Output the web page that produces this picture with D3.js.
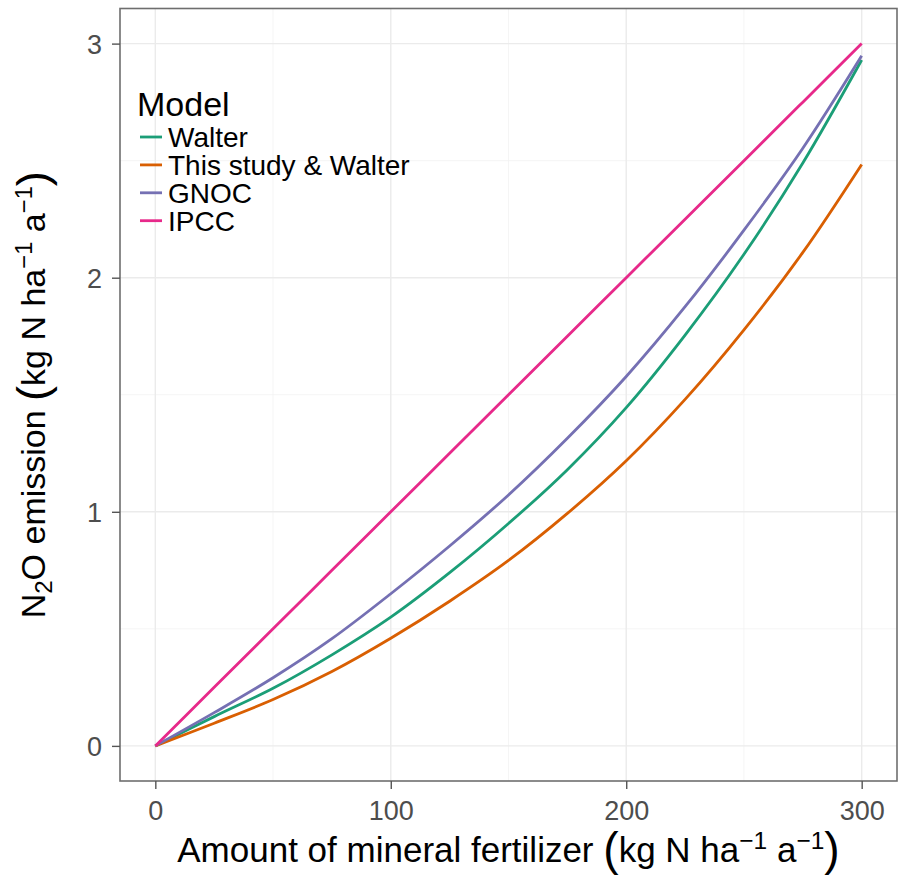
<!DOCTYPE html>
<html>
<head>
<meta charset="utf-8">
<script src="https://cdn.jsdelivr.net/npm/d3@7"></script>
<style>
  body { margin: 0; background: #fff; }
  svg text { font-family: "Liberation Sans", Arial, sans-serif; }
</style>
</head>
<body>
<svg id="chart" width="899" height="879"></svg>
<script>
// fertilizer amounts (kg N / ha / a)
var fertilizer = [0, 25, 50, 75, 100, 125, 150, 175, 200, 225, 250, 275, 300];

// N2O emission
var walter    = [0, 0.125, 0.246, 0.389, 0.55, 0.74, 0.95, 1.18, 1.445, 1.755, 2.10, 2.49, 2.93];
var thisStudy = [0, 0.097, 0.198, 0.318, 0.46, 0.618, 0.792, 0.993, 1.218, 1.48, 1.777, 2.108, 2.484];
var gnoc      = [0, 0.142, 0.291, 0.458, 0.65, 0.854, 1.072, 1.314, 1.578, 1.876, 2.203, 2.553, 2.948];
var ipcc      = [0, 0.25, 0.5, 0.75, 1.0, 1.25, 1.5, 1.75, 2.0, 2.25, 2.5, 2.75, 3.0];

var modelNames = ["Walter", "This study & Walter", "GNOC", "IPCC"];
var modelColors = ["#1b9e77", "#d95f02", "#7570b3", "#e7298a"];

var xTicks = [0, 100, 200, 300];
var xMinor = [50, 150, 250];
var yTicks = [0, 1, 2, 3];
var yMinor = [0.5, 1.5, 2.5];

var svg = d3.select("#chart"),
    margin = {top: 8.5, right: 2, bottom: 98, left: 120},
    width = +svg.attr("width") - margin.left - margin.right,
    height = +svg.attr("height") - margin.top - margin.bottom,
    g = svg.append("g").attr("transform", "translate(" + margin.left + "," + margin.top + ")");

var x = d3.scaleLinear().domain([-15, 315]).range([0, width]);
var y = d3.scaleLinear().domain([-0.15, 3.15]).range([height, 0]);

// grid
g.selectAll(".vminor").data(xMinor).enter().append("line")
  .attr("x1", x).attr("x2", x).attr("y1", 0).attr("y2", height)
  .attr("stroke", "#f2f2f2").attr("stroke-width", 0.8);
g.selectAll(".hminor").data(yMinor).enter().append("line")
  .attr("y1", y).attr("y2", y).attr("x1", 0).attr("x2", width)
  .attr("stroke", "#f2f2f2").attr("stroke-width", 0.8);
g.selectAll(".vmajor").data(xTicks).enter().append("line")
  .attr("x1", x).attr("x2", x).attr("y1", 0).attr("y2", height)
  .attr("stroke", "#ebebeb").attr("stroke-width", 1.4);
g.selectAll(".hmajor").data(yTicks).enter().append("line")
  .attr("y1", y).attr("y2", y).attr("x1", 0).attr("x2", width)
  .attr("stroke", "#ebebeb").attr("stroke-width", 1.4);

// lines
var line = d3.line()
  .x(function(d) { return x(d[0]); })
  .y(function(d) { return y(d[1]); })
  .curve(d3.curveCatmullRom);

var seriesValues = [walter, thisStudy, gnoc, ipcc];
seriesValues.forEach(function(vals, i) {
  g.append("path")
    .datum(fertilizer.map(function(f, j) { return [f, vals[j]]; }))
    .attr("fill", "none")
    .attr("stroke", modelColors[i])
    .attr("stroke-width", 2.8)
    .attr("d", line);
});

// panel border
g.append("rect")
  .attr("width", width).attr("height", height)
  .attr("fill", "none").attr("stroke", "#6e6e6e").attr("stroke-width", 1.6);

// axes
var xAxis = g.append("g").attr("transform", "translate(0," + height + ")")
  .call(d3.axisBottom(x).tickValues(xTicks).tickSize(8).tickPadding(5).tickFormat(d3.format("d")));
var yAxis = g.append("g")
  .call(d3.axisLeft(y).tickValues(yTicks).tickSize(8).tickPadding(10).tickFormat(d3.format("d")));

[xAxis, yAxis].forEach(function(a) {
  a.select(".domain").remove();
  a.selectAll("line").attr("stroke", "#555").attr("stroke-width", 1.4);
  a.selectAll("text").attr("fill", "#4d4d4d").style("font-size", "27px");
});
xAxis.selectAll("text").attr("dy", "0.95em");
yAxis.selectAll("text").attr("dy", "0.36em");

// titles: pieces with size and vertical shift (px, negative = up)
function unitPieces(s) {
  return [
    {t: "(", size: s * 1.32, shift: 3},
    {t: "kg N ha", size: s, shift: 0},
    {t: "\u22121", size: s * 0.7, shift: -13},
    {t: " a", size: s, shift: 0},
    {t: "\u22121", size: s * 0.7, shift: -13},
    {t: ")", size: s * 1.32, shift: 3}
  ];
}

function writePieces(sel, pieces) {
  var cur = 0;
  pieces.forEach(function(p) {
    sel.append("tspan")
      .style("font-size", p.size + "px")
      .attr("dy", p.shift - cur)
      .text(p.t);
    cur = p.shift;
  });
}

var xt = svg.append("text")
  .attr("x", margin.left + width / 2).attr("y", 862)
  .attr("text-anchor", "middle").attr("fill", "#000");
writePieces(xt, [{t: "Amount of mineral fertilizer ", size: 35, shift: 0}].concat(unitPieces(35)));

var yt = svg.append("text")
  .attr("transform", "translate(45," + (margin.top + height / 2) + ") rotate(-90)")
  .attr("text-anchor", "middle").attr("fill", "#000");
writePieces(yt, [
  {t: "N", size: 34, shift: 0},
  {t: "2", size: 24, shift: 7},
  {t: "O emission ", size: 34, shift: 0}
].concat(unitPieces(34)));

// legend
var legend = svg.append("g").attr("transform", "translate(137,0)");
legend.append("text").attr("x", 0).attr("y", 116)
  .style("font-size", "34px").attr("fill", "#000").text("Model");
modelNames.forEach(function(name, i) {
  var cy = 137 + i * 27.9;
  legend.append("line")
    .attr("x1", 3).attr("x2", 25).attr("y1", cy).attr("y2", cy)
    .attr("stroke", modelColors[i]).attr("stroke-width", 2.8);
  legend.append("text").attr("x", 31).attr("y", cy + 10)
    .style("font-size", "28px").attr("fill", "#000").text(name);
});
</script>
</body>
</html>
